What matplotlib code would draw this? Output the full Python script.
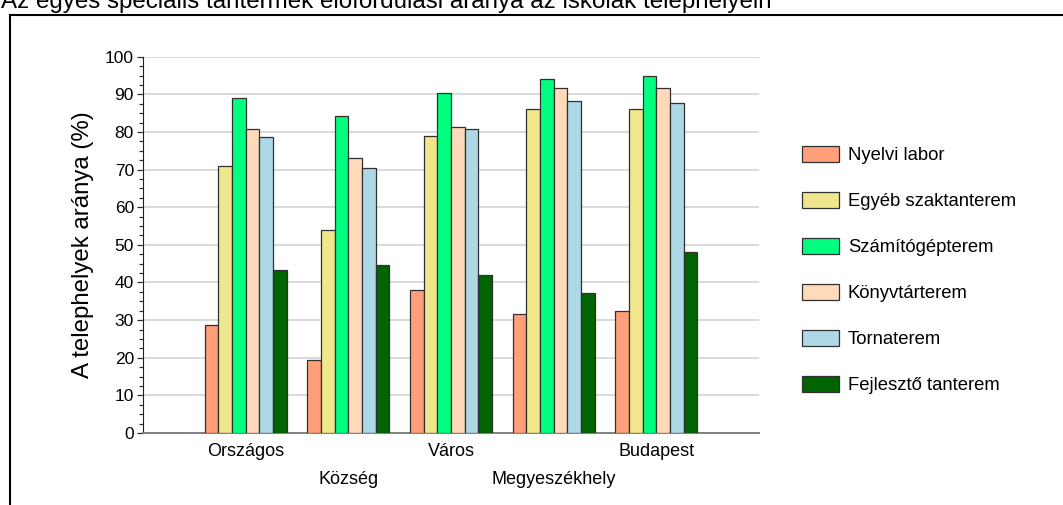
import matplotlib
matplotlib.use("Agg")
import matplotlib.pyplot as plt
import numpy as np
from matplotlib.patches import Rectangle
from matplotlib.ticker import MultipleLocator

plt.rcParams['font.family'] = ['Liberation Sans', 'DejaVu Sans']

title = "Az egyes speciális tantermek előfordulási aránya az iskolák telephelyein"
ylabel = "A telephelyek aránya (%)"
categories = ["Országos", "Község", "Város", "Megyeszékhely", "Budapest"]
series_names = ["Nyelvi labor", "Egyéb szaktanterem", "Számítógépterem",
                "Könyvtárterem", "Tornaterem", "Fejlesztő tanterem"]
nyelvi_labor = [28.8, 19.5, 38.0, 31.7, 32.4]
egyeb_szaktanterem = [70.9, 54.0, 79.0, 86.0, 86.0]
szamitogepterem = [89.0, 84.3, 90.4, 94.2, 95.0]
konyvtarterem = [80.9, 73.2, 81.2, 91.6, 91.8]
tornaterem = [78.6, 70.4, 80.8, 88.3, 87.7]
fejleszto_tanterem = [43.4, 44.6, 41.9, 37.1, 48.0]
colors = ["#FFA07A", "#F0E68C", "#00FF7F", "#FFDAB9", "#ADD8E6", "#006400"]

series = [nyelvi_labor, egyeb_szaktanterem, szamitogepterem,
          konyvtarterem, tornaterem, fejleszto_tanterem]

W, H = 1063, 505
fig = plt.figure(figsize=(W / 100, H / 100), dpi=100)
ax = fig.add_axes([143 / W, 1 - 433 / H, (759 - 143) / W, (433 - 56.7) / H])

x = np.arange(1, len(categories) + 1)
bw = 0.8 / len(series)
for i, (vals, name, c) in enumerate(zip(series, series_names, colors)):
    ax.bar(x + (i - 2.5) * bw, vals, width=bw, color=c, edgecolor="#303030",
           linewidth=0.9, label=name, zorder=3)

ax.set_xlim(0, 6)
ax.set_ylim(0, 100)
ax.yaxis.set_major_locator(MultipleLocator(10))
ax.yaxis.set_minor_locator(MultipleLocator(2.5))
ax.grid(axis='y', color="#d3d3d3", linewidth=1.2, zorder=0)
ax.set_axisbelow(True)
for s in ['top', 'right']:
    ax.spines[s].set_visible(False)
ax.spines['left'].set_color("#202020")
ax.spines['bottom'].set_color("#808080")
ax.spines['bottom'].set_linewidth(1.4)
ax.tick_params(axis='y', which='major', length=4.5, width=0.9, color="#303030",
               labelsize=12.5, pad=2)
ax.tick_params(axis='y', which='minor', length=3, width=0.9, color="#303030")
ax.tick_params(axis='x', length=0, labelsize=13)
ax.set_xticks(x)
ax.set_xticklabels(categories)
for k, t in enumerate(ax.xaxis.get_major_ticks()):
    t.set_pad(7 if k % 2 == 0 else 27.5)
ax.set_ylabel(ylabel, fontsize=17.3, labelpad=8)

ax.legend(loc='center left', bbox_to_anchor=(805 / W - 0.003, 1 - 270 / H),
          bbox_transform=fig.transFigure, frameon=False, fontsize=13.3,
          handlelength=2.0, handleheight=0.95, handletextpad=0.5,
          labelspacing=1.5, borderpad=0, borderaxespad=0)

fig.text(0.001, 1 - 8 / H, title, fontsize=17.4, ha='left', va='baseline')
fig.patches.append(Rectangle((10 / W, -0.1), 1.2, 1 - 15 / H + 0.1,
                             transform=fig.transFigure, fill=False,
                             edgecolor="black", linewidth=1.5, zorder=0))

fig.savefig("out.png", dpi=100)
